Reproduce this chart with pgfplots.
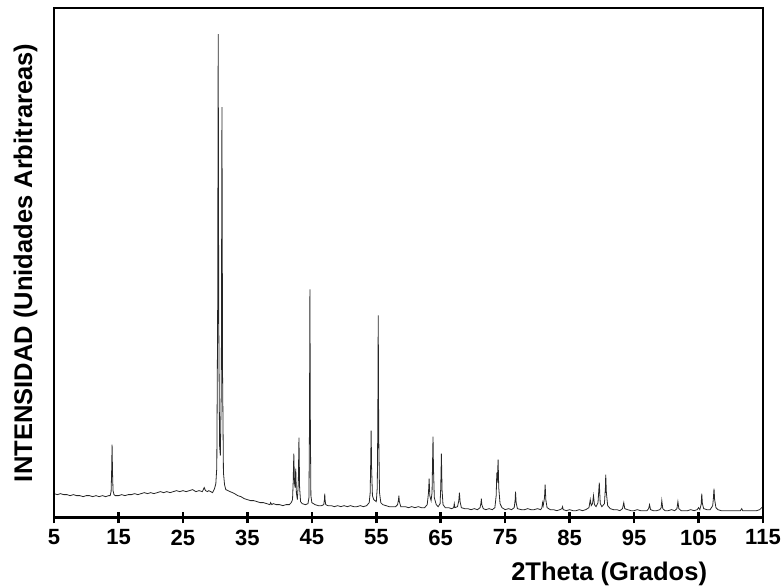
\documentclass[border=0pt]{standalone}
\usepackage{pgfplots}
\pgfplotsset{compat=1.18}
\usepackage{fontspec}
\setmainfont{Liberation Sans}

% XRD pattern, intensity in arbitrary units
\pgfplotstableread{
x y
5.0 24
5.5 23
6.0 24
6.5 23
7.0 23
7.5 22
8.0 23
8.5 22
9.0 22
9.5 21
10.0 22
10.5 22
11.0 21
11.5 22
12.0 21
12.5 22
13.0 21
13.5 22
13.7 22
13.85 26
13.93 45
14.0 73
14.07 45
14.15 27
14.3 23
14.5 22
15.0 22
15.5 23
16.0 22
16.5 23
17.0 23
17.5 24
18.0 23
18.5 24
19.0 25
19.5 24
20.0 25
20.5 24
21.0 25
21.5 26
22.0 25
22.5 26
23.0 25
23.5 26
24.0 27
24.5 26
25.0 27
25.5 26
26.0 27
26.5 28
27.0 26
27.5 27
28.0 26
28.3 30
28.5 27
28.8 26
29.0 27
29.3 26
29.6 25
29.9 29
30.1 34
30.25 50
30.38 200
30.47 483
30.55 200
30.68 72
30.8 62
30.95 130
31.05 410
31.15 140
31.28 45
31.45 33
31.65 28
32.0 27
32.3 26
32.7 25
33.0 24
33.5 22
34.0 21
34.5 19
35.0 18
35.5 17
36.0 17
36.5 16
37.0 15
37.5 15
38.0 14
38.5 13
38.6 15
38.8 13
39.0 14
39.5 13
40.0 13
40.5 12
41.0 13
41.5 13
41.8 15
42.0 18
42.1 35
42.2 64
42.3 35
42.4 30
42.5 49
42.6 25
42.75 18
42.9 35
43.0 80
43.1 30
43.25 16
43.5 14
44.0 13
44.4 14
44.55 20
44.63 90
44.7 228
44.77 90
44.85 22
45.0 15
45.5 13
46.0 12
46.5 12
46.85 13
46.95 18
47.0 24
47.05 18
47.15 13
47.5 12
48.0 12
48.5 11
49.0 12
49.5 11
50.0 12
50.5 11
51.0 12
51.5 11
52.0 11
52.5 12
53.0 11
53.5 12
53.9 15
54.05 25
54.13 55
54.2 87
54.27 50
54.4 22
54.6 18
55.0 16
55.15 30
55.23 90
55.3 202
55.37 85
55.5 25
55.7 15
56.0 13
56.5 12
57.0 11
57.5 11
58.0 11
58.3 13
58.45 18
58.5 22
58.58 16
58.8 11
59.5 11
60.0 10
60.5 11
61.0 10
61.5 11
62.0 10
62.5 10
62.9 13
63.1 25
63.2 39
63.3 22
63.5 17
63.65 25
63.73 55
63.8 81
63.87 50
64.0 20
64.3 13
64.6 11
64.9 14
65.0 30
65.1 64
65.2 28
65.35 13
65.7 10
66.2 10
66.7 9
67.0 10
67.1 14
67.2 10
67.6 11
67.8 17
67.9 25
68.0 16
68.2 10
68.7 9
69.2 9
69.7 8
70.2 9
70.7 8
71.1 10
71.25 15
71.3 19
71.37 13
71.6 9
72.0 8
72.5 9
73.0 8
73.4 10
73.6 22
73.7 45
73.77 35
73.9 58
74.0 30
74.2 14
74.5 10
75.0 8
75.5 9
76.0 8
76.4 10
76.55 18
76.6 26
76.7 15
76.9 9
77.5 8
78.0 8
78.5 9
79.0 8
79.5 8
80.0 9
80.5 8
80.7 10
80.8 15
80.9 12
81.1 20
81.2 33
81.3 18
81.5 10
82.0 8
82.5 8
83.0 7
83.5 8
83.8 9
83.9 11
84.0 8
84.5 7
85.0 8
85.5 7
86.0 7
86.5 8
87.0 7
87.5 8
88.0 10
88.2 18
88.35 12
88.55 14
88.7 22
88.85 13
89.1 11
89.4 15
89.6 35
89.75 14
90.0 11
90.4 14
90.55 30
90.6 43
90.7 25
90.9 12
91.3 9
91.8 8
92.3 8
92.8 7
93.2 9
93.4 15
93.55 9
94.0 8
94.5 7
95.0 7
95.5 8
96.0 7
96.5 7
97.0 7
97.25 9
97.4 13
97.55 8
98.0 7
98.5 7
99.0 8
99.2 10
99.3 17
99.45 9
99.8 7
100.3 7
100.8 8
101.3 7
101.65 9
101.8 16
101.95 9
102.3 7
102.8 7
103.3 7
103.8 8
104.3 7
104.8 8
105.0 10
105.2 8
105.4 13
105.5 24
105.6 14
105.8 9
106.3 8
106.8 8
107.2 12
107.3 19
107.4 29
107.5 18
107.7 10
108.0 8
108.5 7
109.0 7
109.5 7
110.0 7
110.5 7
111.0 7
111.5 7
111.7 9
111.85 7
112.5 7
113.0 7
113.5 7
114.0 7
114.5 8
114.8 10
115.0 11
}\xrd

\begin{document}
\begin{tikzpicture}
\useasboundingbox (-54pt,-70pt) rectangle (729pt,517pt);
\begin{axis}[
    at={(0pt,0pt)}, anchor=south west,
    width=708pt, height=509pt,
    scale only axis,
    xmin=5, xmax=115,
    ymin=0, ymax=509,
    xtick={5,15,...,115},
    xticklabels={5,15,25,35,45,55,65,75,85,95,105,115},
    ytick=\empty,
    xtick pos=bottom,
    tick align=center,
    major tick length=11pt,
    tick style={black, line width=2.6pt},
    axis line style={black, line width=2.6pt},
    tick label style={font=\fontsize{22}{26}\selectfont\bfseries},
    xticklabel style={yshift=-3pt},
    xlabel={2Theta (Grados)},
    ylabel={INTENSIDAD (Unidades Arbitrareas)},
    label style={font=\fontsize{25.5}{30}\selectfont\bfseries},
    xlabel style={at={(axis description cs:0.783,-0.124)}, anchor=base},
    ylabel style={at={(axis description cs:-0.0311,0.5)}, anchor=base},
    clip=false,
    ]
\addplot[black!85, line width=0.8pt] table[x=x, y=y] {\xrd};
% heavy frame and tick marks, drawn over the default ones
\draw[line width=2.6pt, line join=miter] (rel axis cs:0,0) rectangle (rel axis cs:1,1);
\draw[line width=2.6pt] ([yshift=-5.5pt]axis cs:15,0) -- ([yshift=5.5pt]axis cs:15,0);
\draw[line width=2.6pt] ([yshift=-5.5pt]axis cs:25,0) -- ([yshift=5.5pt]axis cs:25,0);
\draw[line width=2.6pt] ([yshift=-5.5pt]axis cs:35,0) -- ([yshift=5.5pt]axis cs:35,0);
\draw[line width=2.6pt] ([yshift=-5.5pt]axis cs:45,0) -- ([yshift=5.5pt]axis cs:45,0);
\draw[line width=2.6pt] ([yshift=-5.5pt]axis cs:55,0) -- ([yshift=5.5pt]axis cs:55,0);
\draw[line width=2.6pt] ([yshift=-5.5pt]axis cs:65,0) -- ([yshift=5.5pt]axis cs:65,0);
\draw[line width=2.6pt] ([yshift=-5.5pt]axis cs:75,0) -- ([yshift=5.5pt]axis cs:75,0);
\draw[line width=2.6pt] ([yshift=-5.5pt]axis cs:85,0) -- ([yshift=5.5pt]axis cs:85,0);
\draw[line width=2.6pt] ([yshift=-5.5pt]axis cs:95,0) -- ([yshift=5.5pt]axis cs:95,0);
\draw[line width=2.6pt] ([yshift=-5.5pt]axis cs:105,0) -- ([yshift=5.5pt]axis cs:105,0);
\draw[line width=2.6pt] ([yshift=-5.5pt]axis cs:5,0) -- ([yshift=-1pt]axis cs:5,0);
\draw[line width=2.6pt] ([yshift=-5.5pt]axis cs:115,0) -- ([yshift=-1pt]axis cs:115,0);
\end{axis}
\end{tikzpicture}
\end{document}
